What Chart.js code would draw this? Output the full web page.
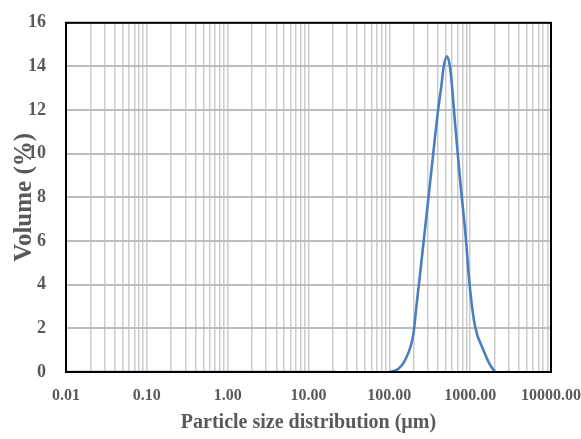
<!DOCTYPE html>
<html>
<head>
<meta charset="utf-8">
<script src="https://cdn.jsdelivr.net/npm/chart.js@4.4.0/dist/chart.umd.min.js"></script>
<style>
  html, body { margin: 0; padding: 0; background: #fff; }
  #wrap { width: 581px; height: 439px; }
</style>
</head>
<body>
<div id="wrap"><canvas id="myChart" width="581" height="439"></canvas></div>
<script>
// particle size (um) and volume (%)
const sizes   = [0.01, 0.1, 1, 10, 22, 50, 100, 130, 157, 199, 216, 232, 266, 305, 349, 401, 440, 468, 513, 565, 652, 752, 867, 1000, 1153, 1462, 1750, 2037, 2400, 2750, 3100];
const volumes = [0, 0, 0, 0, 0, null, 0, 0.15, 0.55, 1.77, 3.0, 4.0, 6.0, 8.0, 10.0, 12.0, 13.1, 13.94, 14.47, 13.94, 11.36, 8.77, 6.48, 3.74, 2.07, 1.0, 0.35, 0, null, 0, 0];
const xDecades = [0.01, 0.1, 1, 10, 100, 1000, 10000];

const gray = '#595959';

const points = sizes.map((s, i) => ({ x: s, y: volumes[i] }));

// horizontal grid lines and black frame round the plot area
const frame = {
    id: 'frame',
    beforeDatasetsDraw(chart) {
        const a = chart.chartArea, c = chart.ctx, y = chart.scales.y;
        c.save();
        c.strokeStyle = '#bdbdbd';
        c.lineWidth = 2;
        y.ticks.forEach(t => {
            const py = Math.round(y.getPixelForValue(t.value));
            c.beginPath();
            c.moveTo(a.left, py);
            c.lineTo(a.right, py);
            c.stroke();
        });
        c.restore();
    },
    afterDraw(chart) {
        const a = chart.chartArea, c = chart.ctx;
        c.save();
        c.strokeStyle = '#000';
        c.lineWidth = 2;
        c.strokeRect(a.left, a.top, a.right - a.left, a.bottom - a.top);
        c.restore();
    }
};

const ctx = document.getElementById('myChart');
const myChart = new Chart(ctx, {
    type: 'line',
    data: {
        datasets: [{
            data: points,
            borderColor: '#4a7ebf',
            borderWidth: 2.6,
            pointRadius: 0,
            cubicInterpolationMode: 'monotone',
            spanGaps: false,
            fill: false
        }]
    },
    options: {
        responsive: false,
        animation: false,
        layout: { padding: { left: 10, right: 30, top: 22, bottom: 0 } },
        plugins: { legend: { display: false }, tooltip: { enabled: false } },
        scales: {
            x: {
                type: 'logarithmic',
                min: 0.01,
                max: 10000,
                afterBuildTicks: (scale) => {
                    const t = [];
                    for (let e = -2; e <= 3; e++) {
                        for (let m = 1; m <= 9; m++) t.push({ value: +(m * Math.pow(10, e)).toPrecision(3) });
                    }
                    t.push({ value: 10000 });
                    scale.ticks = t;
                },
                afterFit: (scale) => { scale.height = 67; scale.paddingRight = 0; scale.paddingLeft = 0; },
                ticks: {
                    autoSkip: false,
                    maxRotation: 0,
                    color: gray,
                    font: { family: 'Liberation Serif', size: 16, weight: 'bold' },
                    padding: 14,
                    callback: (v) => xDecades.includes(v) ? v.toFixed(2) : ''
                },
                grid: { color: '#cccccc', lineWidth: 1.5, drawTicks: false },
                border: { color: '#000', width: 2 },
                title: {
                    display: true,
                    text: 'Particle size distribution (µm)',
                    color: gray,
                    font: { family: 'Liberation Serif', size: 20, weight: 'bold' },
                    padding: { top: 2 }
                }
            },
            y: {
                min: 0,
                max: 16,
                afterFit: (scale) => { scale.width = 56; },
                ticks: {
                    stepSize: 2,
                    color: gray,
                    font: { family: 'Liberation Serif', size: 18, weight: 'bold' },
                    padding: 12
                },
                grid: { display: false },
                border: { color: '#000', width: 2 },
                title: {
                    display: true,
                    text: 'Volume (%)',
                    color: gray,
                    font: { family: 'Liberation Serif', size: 25, weight: 'bold' },
                    padding: { top: 0, bottom: 0 }
                }
            }
        }
    },
    plugins: [frame]
});
</script>
</body>
</html>
